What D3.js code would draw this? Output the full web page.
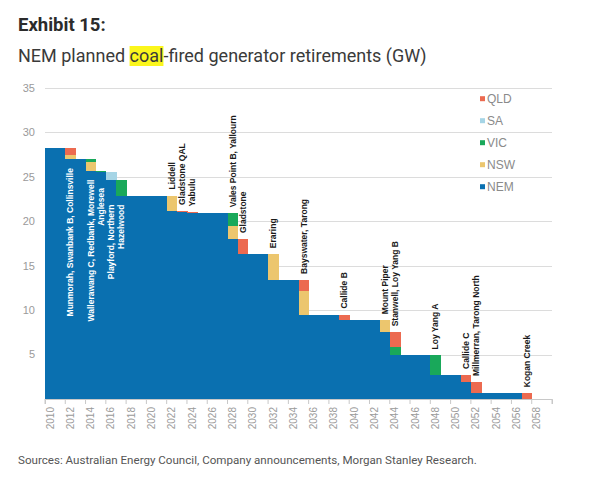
<!DOCTYPE html>
<html><head><meta charset="utf-8">
<script src="https://cdn.jsdelivr.net/npm/d3@7/dist/d3.min.js"></script>
<style>body{margin:0;background:#fff;} svg{display:block}</style>
</head><body>
<svg id="c" width="590" height="478"></svg>
<script>
// ---------- DATA ----------
const years = [2010,2011,2012,2013,2014,2015,2016,2017,2018,2019,2020,2021,2022,2023,2024,2025,2026,2027,2028,2029,
  2030,2031,2032,2033,2034,2035,2036,2037,2038,2039,2040,2041,2042,2043,2044,2045,2046,2047,2048,2049,
  2050,2051,2052,2053,2054,2055,2056,2057,2058,2059];
// remaining NEM coal capacity (GW)
const nem = [28.3,28.3,27.0,27.0,25.7,25.55,24.7,22.9,22.9,22.9,22.9,22.9,21.15,21.0,20.9,20.9,20.9,20.9,18.0,16.3,
  16.3,16.3,13.4,13.4,13.4,9.5,9.5,9.5,9.5,8.85,8.85,8.85,8.85,7.5,4.9,4.9,4.9,4.9,2.7,2.7,
  2.7,1.9,0.65,0.65,0.65,0.65,0.65,0,0,0];
// retirements by state (GW), year -> value
const nsw = {2012:0.5, 2014:1.0, 2022:1.75, 2028:1.45, 2032:2.9, 2035:2.6, 2043:1.35};
const vic = {2014:0.3, 2015:0.15, 2017:1.8, 2028:1.45, 2044:1.0, 2048:2.2};
const sa  = {2016:0.85};
const qld = {2012:0.8, 2023:0.15, 2024:0.1, 2029:1.7, 2035:1.3, 2039:0.65, 2044:1.6, 2051:0.8, 2052:1.25, 2057:0.65};
const yTicks = [5,10,15,20,25,30,35];
const xTickLabels = [2010,2012,2014,2016,2018,2020,2022,2024,2026,2028,2030,2032,2034,2036,2038,2040,2042,2044,2046,2048,2050,2052,2054,2056,2058];
const legendItems = ["QLD","SA","VIC","NSW","NEM"];
const insideLabels = [[2012,"Munmorah, Swanbank B, Collinsville"],[2014,"Wallerawang C, Redbank, Morewell"],
  [2015,"Anglesea"],[2016,"Playford, Northern"],[2017,"Hazelwood"]];
const aboveLabels = [[2022,"Liddell"],[2023,"Gladstone QAL"],[2024,"Yabulu"],[2028,"Vales Point B, Yallourn"],
  [2029,"Gladstone"],[2032,"Eraring"],[2035,"Bayswater, Tarong"],[2039,"Callide B"],[2043,"Mount Piper"],
  [2044,"Stanwell, Loy Yang B"],[2048,"Loy Yang A"],[2051,"Callide C"],[2052,"Millmerran, Tarong North"],[2057,"Kogan Creek"]];

// ---------- CHART ----------
const colors = {NEM:"#0a70b0", NSW:"#ecc66e", VIC:"#19a85a", SA:"#a6d5e6", QLD:"#ec6a50"};
const keys = ["NEM","NSW","VIC","SA","QLD"];
const rows = years.map((yr,i)=>({year:yr, NEM:nem[i], NSW:nsw[yr]||0, VIC:vic[yr]||0, SA:sa[yr]||0, QLD:qld[yr]||0}));

const svg = d3.select("#c");
const x = d3.scaleBand().domain(years).range([45,552]).padding(0);
const y = d3.scaleLinear().domain([0,35]).range([399,88]);
const font = "'Liberation Sans', Arial, sans-serif";

// title
svg.append("text").attr("x",18).attr("y",31).attr("font-family","Roboto, sans-serif").attr("font-weight",700)
  .attr("font-size",18.5).attr("fill","#2b2b2b").text("Exhibit 15:");
const hl = svg.append("rect").attr("fill","#fbf61c");
const sub = svg.append("text").attr("x",18).attr("y",62).attr("font-family","Roboto, sans-serif")
  .attr("font-size",18).attr("fill","#3a3a3a");
sub.append("tspan").text("NEM planned ");
sub.append("tspan").text("coal");
sub.append("tspan").text("-fired generator retirements (GW)");
const sx = sub.node().getStartPositionOfChar(12).x, ex = sub.node().getEndPositionOfChar(15).x;
hl.attr("x",sx).attr("y",46).attr("width",ex-sx).attr("height",20);

// gridlines
svg.append("g").selectAll("line").data(yTicks).join("line")
  .attr("x1",45).attr("x2",552).attr("y1",d=>Math.round(y(d))+0.5).attr("y2",d=>Math.round(y(d))+0.5)
  .attr("stroke","#dcdcdc").attr("stroke-width",1);
svg.append("g").selectAll("text").data(yTicks).join("text")
  .attr("x",35).attr("y",d=>y(d)).attr("dy","0.35em").attr("text-anchor","end")
  .attr("font-family",font).attr("font-size",11).attr("fill","#9a9a9a").text(d=>d);

// stacked bars
const series = d3.stack().keys(keys)(rows);
svg.append("g").attr("shape-rendering","crispEdges").selectAll("g").data(series).join("g").attr("fill",d=>colors[d.key])
  .selectAll("rect").data(d=>d).join("rect")
  .attr("x",d=>x(d.data.year)).attr("width",x.bandwidth()+0.6)
  .attr("y",d=>y(d[1])).attr("height",d=>Math.max(0,y(d[0])-y(d[1])));

// x axis
const bw = x.bandwidth();
const ax = svg.append("g").attr("transform","translate(0,399)")
  .call(d3.axisBottom(x).tickValues(xTickLabels).tickSizeOuter(0).tickSize(5));
ax.select(".domain").attr("stroke","#c8c8c8");
ax.selectAll(".tick line").attr("x1",-bw/2).attr("x2",-bw/2).attr("stroke","#c8c8c8");
ax.append("line").attr("x1",552).attr("x2",552).attr("y1",0).attr("y2",5).attr("stroke","#c8c8c8");
ax.selectAll(".tick text").attr("transform","rotate(-90)").attr("text-anchor","end")
  .attr("x",-8).attr("y",0).attr("dy","0.35em")
  .attr("font-family",font).attr("font-size",10).attr("fill","#9a9a9a");

// labels
const stackTop = yr => { const r = rows[years.indexOf(yr)]; return keys.reduce((s,k)=>s+r[k],0); };
const insideShift = {"Anglesea":16, "Playford, Northern":25};
svg.append("g").selectAll("text").data(insideLabels).join("text")
  .attr("transform",d=>`translate(${x(d[0])+bw/2+3},${y(nem[years.indexOf(d[0])])+(insideShift[d[1]]||9)}) rotate(-90)`)
  .attr("text-anchor","end").attr("font-family",font).attr("font-weight",700).attr("font-size",8.5)
  .attr("fill","#ffffff").text(d=>d[1]);
svg.append("g").selectAll("text").data(aboveLabels).join("text")
  .attr("transform",d=>`translate(${x(d[0])+bw/2+3},${y(stackTop(d[0]))-6}) rotate(-90)`)
  .attr("text-anchor","start").attr("font-family",font).attr("font-weight",700).attr("font-size",8.5)
  .attr("fill","#1a1a1a").text(d=>d[1]);

// legend
const lg = svg.append("g").selectAll("g").data(legendItems).join("g")
  .attr("transform",(d,i)=>`translate(480,${98.7+i*22})`);
lg.append("rect").attr("x",0).attr("y",-2.5).attr("width",5).attr("height",5).attr("fill",d=>colors[d]);
lg.append("text").attr("x",7).attr("y",0).attr("dy","0.35em").attr("font-family",font).attr("font-size",12)
  .attr("fill","#8a8a8a").text(d=>d);

// source
svg.append("text").attr("x",18).attr("y",464).attr("font-family","Roboto, sans-serif").attr("font-size",11.6)
  .attr("fill","#555").text("Sources: Australian Energy Council, Company announcements, Morgan Stanley Research.");
</script>
</body></html>
